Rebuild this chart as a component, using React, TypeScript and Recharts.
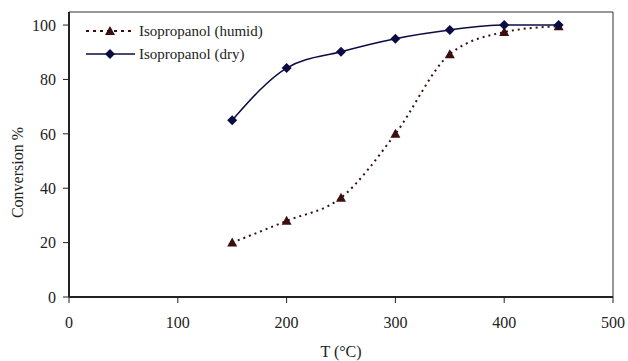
import React from 'react'
import { LineChart, Line, XAxis, YAxis, ReferenceArea } from 'recharts'

const temps = [150, 200, 250, 300, 350, 400, 450]
const humid = [20, 28, 36.5, 60, 89.3, 97.4, 99.6]
const dry = [65, 84.2, 90.2, 95, 98.2, 100, 100]
const xTicks = [0, 100, 200, 300, 400, 500]
const yTicks = [0, 20, 40, 60, 80, 100]

const HUMID = '#3b0f0f'
const DRY = '#0c0c45'
const FONT = '"Liberation Serif", "Times New Roman", serif'
const Y_MAX = 104.8

const data = temps.map((t, i) => ({ t, humid: humid[i], dry: dry[i] }))

const Triangle = ({ cx, cy }: any) => (
  <path d={`M${cx},${cy - 5} L${cx + 5},${cy + 4} L${cx - 5},${cy + 4} Z`} fill={HUMID} />
)

const Diamond = ({ cx, cy }: any) => (
  <path d={`M${cx},${cy - 5} L${cx + 5},${cy} L${cx},${cy + 5} L${cx - 5},${cy} Z`} fill={DRY} />
)

const YLabel = ({ viewBox }: any) => {
  const cy = viewBox.y + viewBox.height / 2 + 18
  return (
    <text x={23} y={cy} transform={`rotate(-90 23 ${cy})`} textAnchor="middle" fontSize={16} fill="#222" fontFamily={FONT}>
      Conversion %
    </text>
  )
}

// legend sits inside the plot, top-left
const LegendBox = () => (
  <svg width={220} height={46} style={{ position: 'absolute', left: 85, top: 20, fontFamily: FONT, fontSize: 15 }}>
    <line x1={1} y1={11} x2={50} y2={11} stroke={HUMID} strokeWidth={2} strokeDasharray="3 4" />
    <path d="M25,6 L30,15 L20,15 Z" fill={HUMID} />
    <text x={54} y={16} fill="#222">Isopropanol (humid)</text>
    <line x1={1} y1={34} x2={50} y2={34} stroke={DRY} strokeWidth={1.5} />
    <path d="M25,29 L30,34 L25,39 L20,34 Z" fill={DRY} />
    <text x={54} y={39} fill="#222">Isopropanol (dry)</text>
  </svg>
)

export default function App() {
  const tick = { fontSize: 16, fill: '#222', fontFamily: FONT }
  return (
    <div style={{ position: 'absolute', left: 0, top: 0, width: 628, height: 361, background: '#fff', fontFamily: FONT }}>
      <LineChart width={628} height={361} data={data} margin={{ top: 12, right: 15, bottom: 0, left: 0 }} style={{ fontFamily: FONT }}>
        <ReferenceArea x1={0} x2={500} y1={0} y2={Y_MAX} fill="none" stroke="#333" strokeWidth={1} ifOverflow="visible" />
        <XAxis
          dataKey="t"
          type="number"
          domain={[0, 500]}
          ticks={xTicks}
          tick={tick}
          tickLine={{ stroke: '#222' }}
          axisLine={{ stroke: '#222', strokeWidth: 2 }}
          tickSize={6}
          tickMargin={14}
          height={64}
          label={{ value: 'T (°C)', position: 'insideBottom', offset: 4, style: { ...tick } }}
        />
        <YAxis
          type="number"
          domain={[0, Y_MAX]}
          ticks={yTicks}
          tick={tick}
          tickLine={{ stroke: '#222' }}
          axisLine={{ stroke: '#222', strokeWidth: 2 }}
          tickSize={6}
          tickMargin={7}
          width={69}
          label={<YLabel />}
        />
        <Line
          dataKey="humid"
          type="monotone"
          stroke={HUMID}
          strokeWidth={2}
          strokeDasharray="2 4"
          dot={<Triangle />}
          activeDot={false}
          isAnimationActive={false}
        />
        <Line
          dataKey="dry"
          type="monotone"
          stroke={DRY}
          strokeWidth={1.5}
          dot={<Diamond />}
          activeDot={false}
          isAnimationActive={false}
        />
      </LineChart>
      <LegendBox />
    </div>
  )
}
